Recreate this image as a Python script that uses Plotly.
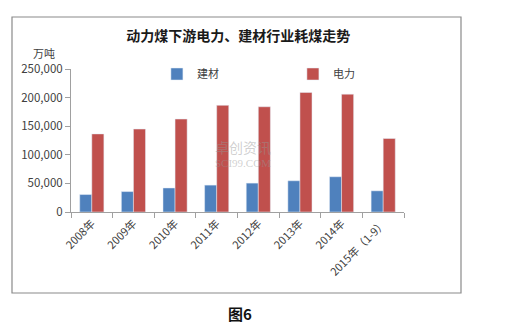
import plotly.graph_objects as go

categories = ["2008年", "2009年", "2010年", "2011年", "2012年", "2013年", "2014年", "2015年（1-9）"]
jiancai = [30500, 35700, 42000, 47000, 50500, 54600, 61600, 37000]
dianli = [136500, 145000, 162500, 186500, 184000, 209000, 206000, 128500]
y_ticks = [0, 50000, 100000, 150000, 200000, 250000]
y_tick_labels = ["0", "50,000", "100,000", "150,000", "200,000", "250,000"]

FONT = "Noto Sans CJK SC, Noto Sans, sans-serif"

fig = go.Figure()
fig.add_trace(go.Bar(name="建材", x=categories, y=jiancai, marker_color="#4F81BD"))
fig.add_trace(go.Bar(name="电力", x=categories, y=dianli, marker_color="#C0504D"))

fig.update_layout(
    width=508, height=326,
    margin=dict(l=71, r=104, t=69, b=114),
    paper_bgcolor="white", plot_bgcolor="white",
    barmode="group", bargap=0.42, bargroupgap=0,
    font=dict(family=FONT, size=11, color="#404040"),
    title=dict(text="动力煤下游电力、建材行业耗煤走势", x=0.469, y=1 - 36 / 326,
               xanchor="center", yanchor="middle", xref="container", yref="container",
               font=dict(family=FONT, size=14, color="#1a1a1a", weight="bold")),
    legend=dict(orientation="h", x=0.258, y=0.965, xanchor="left", yanchor="middle",
                font=dict(size=11, color="#404040"), entrywidth=91, entrywidthmode="pixels",
                bgcolor="rgba(0,0,0,0)", itemwidth=30),
    showlegend=True,
)
fig.update_xaxes(type="category", showline=True, linecolor="#a0a0a0", linewidth=1,
                 ticks="outside", tickson="boundaries", ticklen=5, tickcolor="#a0a0a0",
                 tickangle=-45, tickfont=dict(size=11, color="#404040"), showgrid=False)
fig.update_yaxes(range=[0, 250000], tickvals=y_ticks, ticktext=y_tick_labels,
                 showline=True, linecolor="#a0a0a0", linewidth=1, ticks="outside",
                 ticklen=5, tickcolor="#a0a0a0", showgrid=False, zeroline=False,
                 tickfont=dict(size=11.5, color="#404040"))

# outer chart border
fig.add_shape(type="rect", xref="paper", yref="paper",
              x0=(12 - 71) / 333, x1=(461 - 71) / 333,
              y0=(212 - 293) / 143, y1=(212 - 17) / 143,
              line=dict(color="#8a8a8a", width=1.2), fillcolor="rgba(0,0,0,0)", layer="below")

# unit label
fig.add_annotation(text="万吨", xref="paper", yref="paper", x=(44 - 71) / 333, y=(212 - 53) / 143,
                   showarrow=False, xanchor="center", yanchor="middle",
                   font=dict(size=11, color="#404040"))

# watermark
fig.add_annotation(text="卓创资讯", xref="paper", yref="paper", x=(243 - 71) / 333, y=(212 - 147) / 143,
                   showarrow=False, xanchor="center", yanchor="middle",
                   font=dict(size=14, color="rgba(150,150,150,0.45)"))
fig.add_annotation(text="SCI99.COM", xref="paper", yref="paper", x=(243 - 71) / 333, y=(212 - 163) / 143,
                   showarrow=False, xanchor="center", yanchor="middle",
                   font=dict(family="Liberation Serif, serif", size=11, color="rgba(150,150,150,0.45)"))

# caption
fig.add_annotation(text="图6", xref="paper", yref="paper", x=(240 - 71) / 333, y=(212 - 313) / 143,
                   showarrow=False, xanchor="center", yanchor="middle",
                   font=dict(size=15, color="#111111", weight="bold"))

fig.write_html("out.html")
